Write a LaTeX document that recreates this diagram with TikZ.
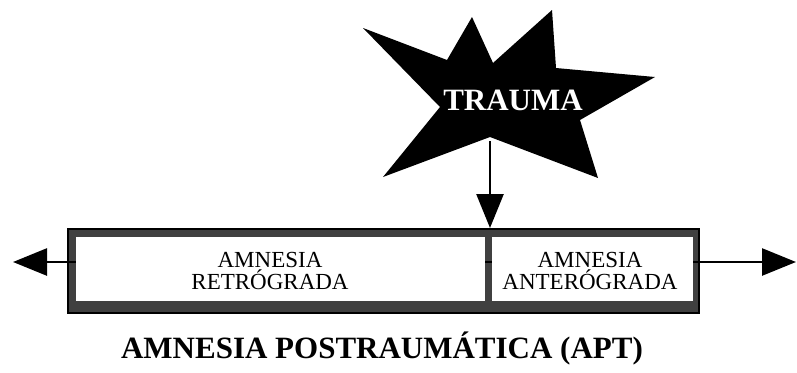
\documentclass[tikz,border=0pt]{standalone}
\usepackage{fontspec}
\setmainfont{Liberation Serif}
\usetikzlibrary{arrows.meta}
\definecolor{FrameGray}{HTML}{404040}

\begin{document}
\begin{tikzpicture}[
    x=1pt, y=-1pt,
    >={Triangle[length=34pt,width=27pt]},
    timeline/.style={line width=2.6pt},
    phasebox/.style={fill=white, inner sep=0pt, anchor=north west, minimum height=64pt},
    phasetext/.style={align=center, font=\fontsize{23}{22}\selectfont}
  ]
  \useasboundingbox (0,0) rectangle (797,372);

  % trauma star
  \fill[black] (363,28) -- (447,60) -- (472,17) -- (493,63) -- (552,10) -- (556,68)
    -- (655,77) -- (580,120) -- (598,178) -- (490,137) -- (383,177) -- (440,107) -- cycle;
  \node[
    text=white,
    anchor=base,
    font=\bfseries\fontsize{31}{31}\selectfont
  ] (trauma) at (513,110) {TRAUMA};
  \coordinate (impact) at (490,141);

  % frame of the two phases
  \node[
    draw=black,
    line width=2pt,
    fill=FrameGray,
    inner sep=0pt,
    anchor=north west,
    minimum width=631pt,
    minimum height=84pt
  ] (apt) at (67,228) {};

  % time axis
  \coordinate (past) at (13,262);
  \coordinate (future) at (796,262);
  \draw[timeline,<->] (past) -- (future);

  \node[phasebox, minimum width=409pt] (retro) at (76,237) {};
  \node[phasebox, minimum width=201pt] (antero) at (492,237) {};
  \node[phasetext] (retrotext) at (270,271) {AMNESIA\\RETRÓGRADA};
  \node[phasetext] (anterotext) at (590,271) {AMNESIA\\ANTERÓGRADA};

  \draw[timeline,->] (impact) -- (impact |- apt.north);

  \node[
    anchor=base,
    font=\bfseries\fontsize{31}{31}\selectfont
  ] (title) at (382,358) {AMNESIA POSTRAUMÁTICA (APT)};
\end{tikzpicture}
\end{document}
